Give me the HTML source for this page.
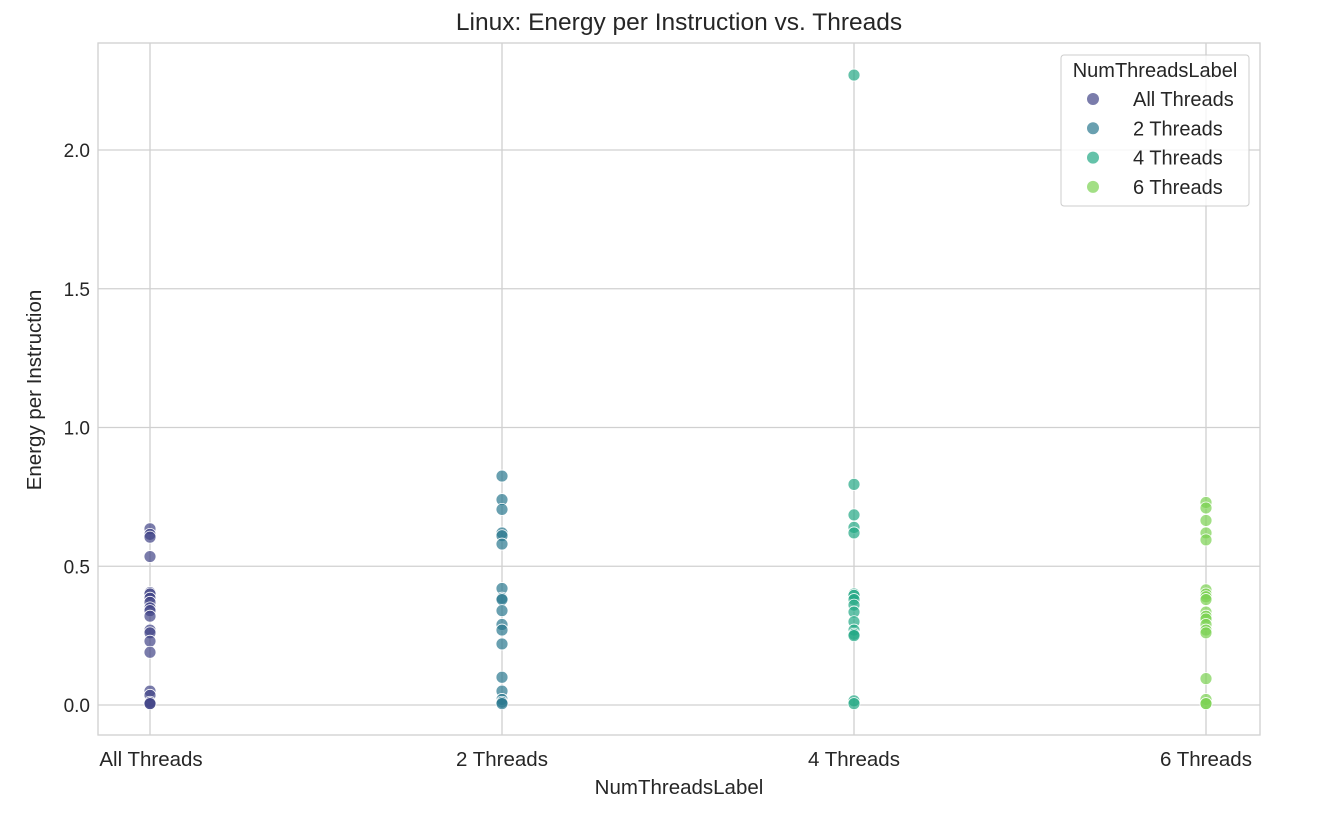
<!DOCTYPE html>
<html><head><meta charset="utf-8"><style>
body{margin:0;background:#fff;font-family:"Liberation Sans",sans-serif;}
</style></head><body>
<svg id="chart" width="1333" height="825" xmlns="http://www.w3.org/2000/svg" font-family="Liberation Sans, sans-serif">
<rect width="1333" height="825" fill="#fff"/>
<g id="grid"></g>
<g id="marks"></g>
<rect x="98" y="43" width="1162" height="692" fill="none" stroke="#d0d0d0" stroke-width="1.3"/>
<g id="ticks"></g>
<text x="679" y="30" text-anchor="middle" font-size="24.5" fill="#262626">Linux: Energy per Instruction vs. Threads</text>
<text x="679" y="794" text-anchor="middle" font-size="20.5" fill="#262626">NumThreadsLabel</text>
<text transform="translate(41,390) rotate(-90)" text-anchor="middle" font-size="20.5" fill="#262626">Energy per Instruction</text>
<g id="legend"></g>
</svg>
<script>
const categories=["All Threads","2 Threads","4 Threads","6 Threads"];
const colors=["#414487","#2a788e","#22a884","#7ad151"];
const yTicks=[0,0.5,1,1.5,2];
const yTickLabels=["0.0","0.5","1.0","1.5","2.0"];
const valsAll=[0.635,0.615,0.605,0.535,0.405,0.40,0.385,0.37,0.35,0.34,0.32,0.27,0.26,0.23,0.19,0.05,0.035,0.01,0.005,0.005];
const vals2=[0.825,0.74,0.705,0.62,0.61,0.58,0.42,0.385,0.38,0.34,0.29,0.27,0.22,0.1,0.05,0.02,0.01,0.005];
const vals4=[2.27,0.795,0.685,0.64,0.62,0.40,0.395,0.38,0.36,0.335,0.30,0.27,0.255,0.25,0.015,0.005];
const vals6=[0.73,0.71,0.665,0.62,0.595,0.415,0.40,0.39,0.38,0.335,0.32,0.31,0.29,0.27,0.26,0.095,0.02,0.005,0.005];
const series=[valsAll,vals2,vals4,vals6];
const NS="http://www.w3.org/2000/svg";
function x(i){return 150+i*352;}
function y(v){return 705-v*277.5;}
function mk(tag,attrs,parent){const e=document.createElementNS(NS,tag);for(const k in attrs)e.setAttribute(k,attrs[k]);parent.appendChild(e);return e;}
const grid=document.getElementById('grid'),ticks=document.getElementById('ticks'),marks=document.getElementById('marks'),leg=document.getElementById('legend');
yTicks.forEach((t,i)=>{
  const l=mk('line',{x1:98,x2:1260,y1:y(t),y2:y(t),stroke:'#d0d0d0','stroke-width':1.3},grid);
  
  
  const tx=mk('text',{x:90,y:y(t)+7,'text-anchor':'end','font-size':19,fill:'#262626'},ticks);
  tx.textContent=yTickLabels[i];
  
  
});
categories.forEach((c,i)=>{
  const l=mk('line',{x1:x(i),x2:x(i),y1:43,y2:735,stroke:'#d0d0d0','stroke-width':1.3},grid);
  
  
  const tx=mk('text',{x:x(i)+(i==0?1:0),y:766,'text-anchor':'middle','font-size':20.5,fill:'#262626'},ticks);
  tx.textContent=c;
  
  
});
series.forEach((vals,i)=>{
  vals.forEach(v=>{
    const c=mk('circle',{cx:x(i),cy:y(v),r:6,fill:colors[i],'fill-opacity':0.7,stroke:'#fff','stroke-width':0.8},marks);
    
    
  });
});
mk('rect',{x:1061,y:55,width:188,height:151,rx:3,fill:'#fff','fill-opacity':0.8,stroke:'#ccc'},leg);
const lt=mk('text',{x:1155,y:77,'text-anchor':'middle','font-size':20,fill:'#262626'},leg);
lt.textContent="NumThreadsLabel";


categories.forEach((c,i)=>{
  const g=mk('g',{},leg);
  
  
  const yy=99+i*29.3;
  mk('circle',{cx:1093,cy:yy,r:6,fill:colors[i],'fill-opacity':0.7},g);
  const t=mk('text',{x:1133,y:yy+7,'font-size':20,fill:'#262626'},g);
  t.textContent=c;
});
</script>
</body></html>
